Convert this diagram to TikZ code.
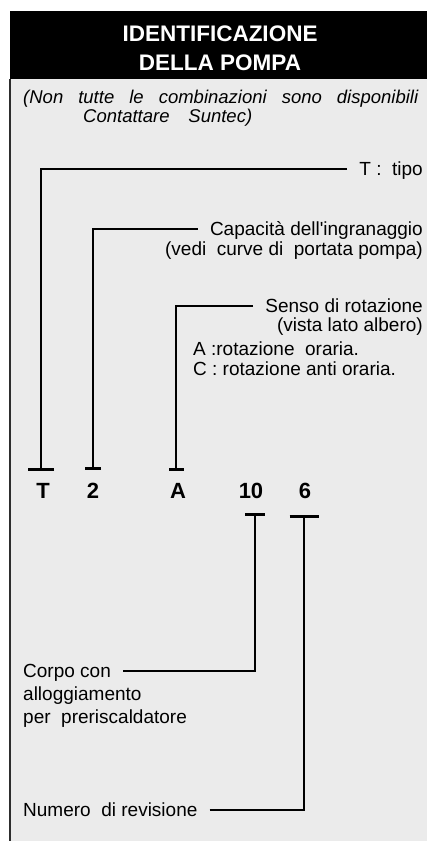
\documentclass[tikz,border=0pt]{standalone}
\usepackage{fontspec}
\setmainfont{Liberation Sans}
\usepackage{xcolor}
\usetikzlibrary{positioning,arrows.meta}
\definecolor{panelgray}{RGB}{235,235,235}
\definecolor{edgegray}{RGB}{45,45,45}

\tikzset{
  lbl/.style={inner xsep=12pt, inner ysep=0pt, text height=13.6pt, text depth=0pt,
    font=\fontsize{19}{19}\selectfont},
  notetext/.style={inner sep=0pt, text height=13pt, text depth=0pt,
    font=\fontsize{18.5}{19}\selectfont\itshape},
  codechar/.style={inner sep=0pt, text height=15.8pt, text depth=0pt,
    font=\fontsize{22}{22}\selectfont\bfseries},
  lead/.style={line width=2.8pt, line join=miter},
}

\begin{document}
\begin{tikzpicture}[x=1pt,y=-1pt]
    \useasboundingbox (0,0) rectangle (427,841);

    % Panel and header
    \fill[panelgray] (10,11) rectangle (427,841);
    \fill[black] (10,11) rectangle (427,79);
    \draw[edgegray, line width=1.5pt] (10,79) -- (10,841);
    \node[text=white, align=center, inner sep=0pt,
      font=\fontsize{22.5}{29}\selectfont\bfseries] (title) at (220,48.5)
      {IDENTIFICAZIONE\\DELLA POMPA};

    % Note
    \node[notetext, anchor=west] (note1) at (23,97)
      {\makebox[395pt][s]{(Non tutte le combinazioni sono disponibili}};
    \node[notetext, anchor=west] (note2) at (83,116)
      {\makebox[169pt][s]{Contattare Suntec)}};

    % Code letters
    \node[codechar] (codeT) at (43,491) {T};
    \node[codechar] (code2) at (93,491) {2};
    \node[codechar] (codeA) at (178,491) {A};
    \node[codechar] (code10) at (251,491) {10};
    \node[codechar] (code6) at (305,491) {6};

    % Labels above
    \node[lbl, anchor=east] (lblT) at (435,169) {T :\ \ tipo};
    \node[lbl, anchor=east] (lbl2) at (435,229) {Capacità dell\textquotesingle ingranaggio};
    \node[lbl, below left=5.4pt and 0pt of lbl2.south east] (lbl2b)
      {(vedi\ \ curve di\ \ portata pompa)};
    \node[lbl, anchor=east] (lblA) at (435,306) {Senso di rotazione};
    \node[lbl, below left=5pt and 0pt of lblA.south east] (lblAb)
      {(vista lato albero)};
    \node[lbl, anchor=west] (lblAc) at (181,349) {A :rotazione\ \ oraria.};
    \node[lbl, below right=5.4pt and 0pt of lblAc.south west] (lblAd)
      {C : rotazione anti oraria.};

    % Labels below
    \node[lbl, anchor=west] (lblCorpo) at (11,671) {Corpo con};
    \node[lbl, below right=9pt and 0pt of lblCorpo.south west] (lblCorpob)
      {alloggiamento};
    \node[lbl, below right=9pt and 0pt of lblCorpob.south west] (lblCorpoc)
      {per\ \ preriscaldatore};
    \node[lbl, anchor=west] (lblRev) at (11,810) {Numero\ \ di revisione};

    % Leaders
    \draw[lead, -{Bar[width=26pt]}] (lblT.west) -| ([xshift=-2pt, yshift=12pt]codeT.north);
    \draw[lead, -{Bar[width=16pt]}] (lbl2.west) -| ([yshift=13pt]code2.north);
    \draw[lead, -{Bar[width=15pt]}] (lblA.west) -| ([xshift=-2pt, yshift=12pt]codeA.north);
    \draw[lead, -{Bar[width=20pt]}] (lblCorpo.east) -| ([xshift=4pt, yshift=-14pt]code10.south);
    \draw[lead, -{Bar[width=29pt]}] (lblRev.east) -| ([xshift=-1pt, yshift=-16pt]code6.south);
\end{tikzpicture}
\end{document}
